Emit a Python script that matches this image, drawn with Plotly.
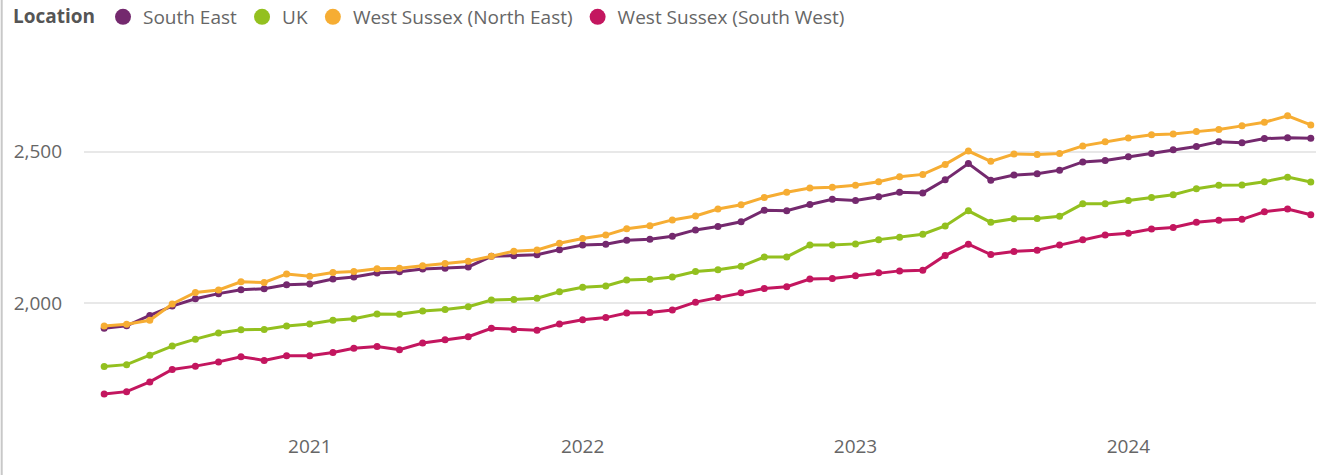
import pandas as pd
import plotly.graph_objects as go

months = pd.date_range("2020-04-01", "2024-09-01", freq="MS")

south_east = [1918, 1926, 1960, 1991, 2015, 2032, 2045, 2048, 2061, 2064,
              2080, 2087, 2100, 2104, 2113, 2116, 2120, 2155, 2157, 2160,
              2177, 2192, 2195, 2208, 2211, 2221, 2242, 2253, 2269, 2307,
              2305, 2326, 2343, 2339, 2351, 2366, 2364, 2407, 2461, 2406,
              2423, 2427, 2439, 2466, 2471, 2483, 2494, 2506, 2517, 2533,
              2529, 2543, 2546, 2544]
uk = [1792, 1798, 1829, 1859, 1882, 1902, 1913, 1914, 1925, 1932,
      1944, 1949, 1965, 1964, 1975, 1980, 1989, 2011, 2013, 2017,
      2038, 2053, 2057, 2077, 2079, 2087, 2105, 2111, 2122, 2153,
      2153, 2192, 2192, 2196, 2210, 2218, 2228, 2255, 2305, 2267,
      2279, 2280, 2287, 2328, 2328, 2339, 2349, 2358, 2378, 2389,
      2390, 2401, 2416, 2400]
ws_north_east = [1925, 1931, 1944, 1998, 2036, 2044, 2071, 2069, 2097, 2089,
                 2102, 2105, 2114, 2116, 2124, 2131, 2139, 2155, 2172, 2176,
                 2198, 2214, 2225, 2246, 2256, 2275, 2288, 2311, 2325, 2349,
                 2366, 2380, 2383, 2389, 2401, 2417, 2425, 2458, 2502, 2468,
                 2492, 2491, 2494, 2519, 2533, 2545, 2556, 2558, 2566, 2573,
                 2585, 2597, 2618, 2588]
ws_south_west = [1701, 1709, 1741, 1782, 1793, 1807, 1824, 1812, 1827, 1827,
                 1838, 1852, 1858, 1847, 1869, 1880, 1890, 1918, 1914, 1911,
                 1932, 1946, 1953, 1968, 1970, 1978, 2004, 2019, 2035, 2049,
                 2055, 2080, 2082, 2091, 2101, 2107, 2109, 2158, 2195, 2161,
                 2171, 2175, 2192, 2210, 2225, 2231, 2245, 2250, 2267, 2274,
                 2277, 2302, 2311, 2292]

series_names = ["South East", "UK", "West Sussex (North East)", "West Sussex (South West)"]
series_values = [south_east, uk, ws_north_east, ws_south_west]
colors = ["#74296E", "#93C01F", "#F6AD33", "#C3165F"]

FONT = "Segoe UI, Open Sans, sans-serif"

fig = go.Figure()
for name, vals, col in zip(series_names, series_values, colors):
    fig.add_trace(go.Scatter(
        x=months, y=vals, name=name, mode="lines+markers",
        line=dict(color=col, width=3),
        marker=dict(color=col, size=7),
        showlegend=False,
    ))
# legend entries (big circles)
for name, col in zip(series_names, colors):
    fig.add_trace(go.Scatter(
        x=[None], y=[None], name=name, mode="markers",
        marker=dict(color=col, size=17), showlegend=True,
    ))

fig.update_layout(
    width=1337, height=475,
    margin=dict(l=84, r=21, t=40, b=50, autoexpand=False),
    paper_bgcolor="white", plot_bgcolor="white",
    font=dict(family=FONT, color="#666666", size=19),
    legend=dict(
        orientation="h", xref="container", yref="paper",
        x=0.0082, y=1.0597, xanchor="left", yanchor="middle",
        title=dict(text="<b>Location</b>", font=dict(size=19, color="#555555")),
        font=dict(size=19, color="#666666"),
        itemwidth=30, tracegroupgap=0,
    ),
    xaxis=dict(
        type="date",
        range=["2020-03-05", "2024-09-08"],
        tickvals=pd.to_datetime(["2021-01-01", "2022-01-01", "2023-01-01", "2024-01-01"]),
        tickformat="%Y",
        showgrid=False, zeroline=False, showline=False,
        ticks="", ticklabelstandoff=8,
        tickfont=dict(size=19, color="#666666"),
    ),
    yaxis=dict(
        range=[1599, 2868],
        tickvals=[2000, 2500],
        tickformat=",",
        showgrid=True, gridcolor="#E8E8E8", gridwidth=1.5,
        zeroline=False, showline=False, ticks="",
        ticklabelstandoff=21,
        tickfont=dict(size=19, color="#666666"),
    ),
    shapes=[dict(type="line", xref="paper", yref="paper",
                 x0=-0.0668, x1=-0.0668, y0=-0.2, y1=1.2,
                 line=dict(color="#C8C8C8", width=2))],
)

fig.write_html("out.html", config={"displayModeBar": False},
               post_script="document.body.style.margin='0';")
